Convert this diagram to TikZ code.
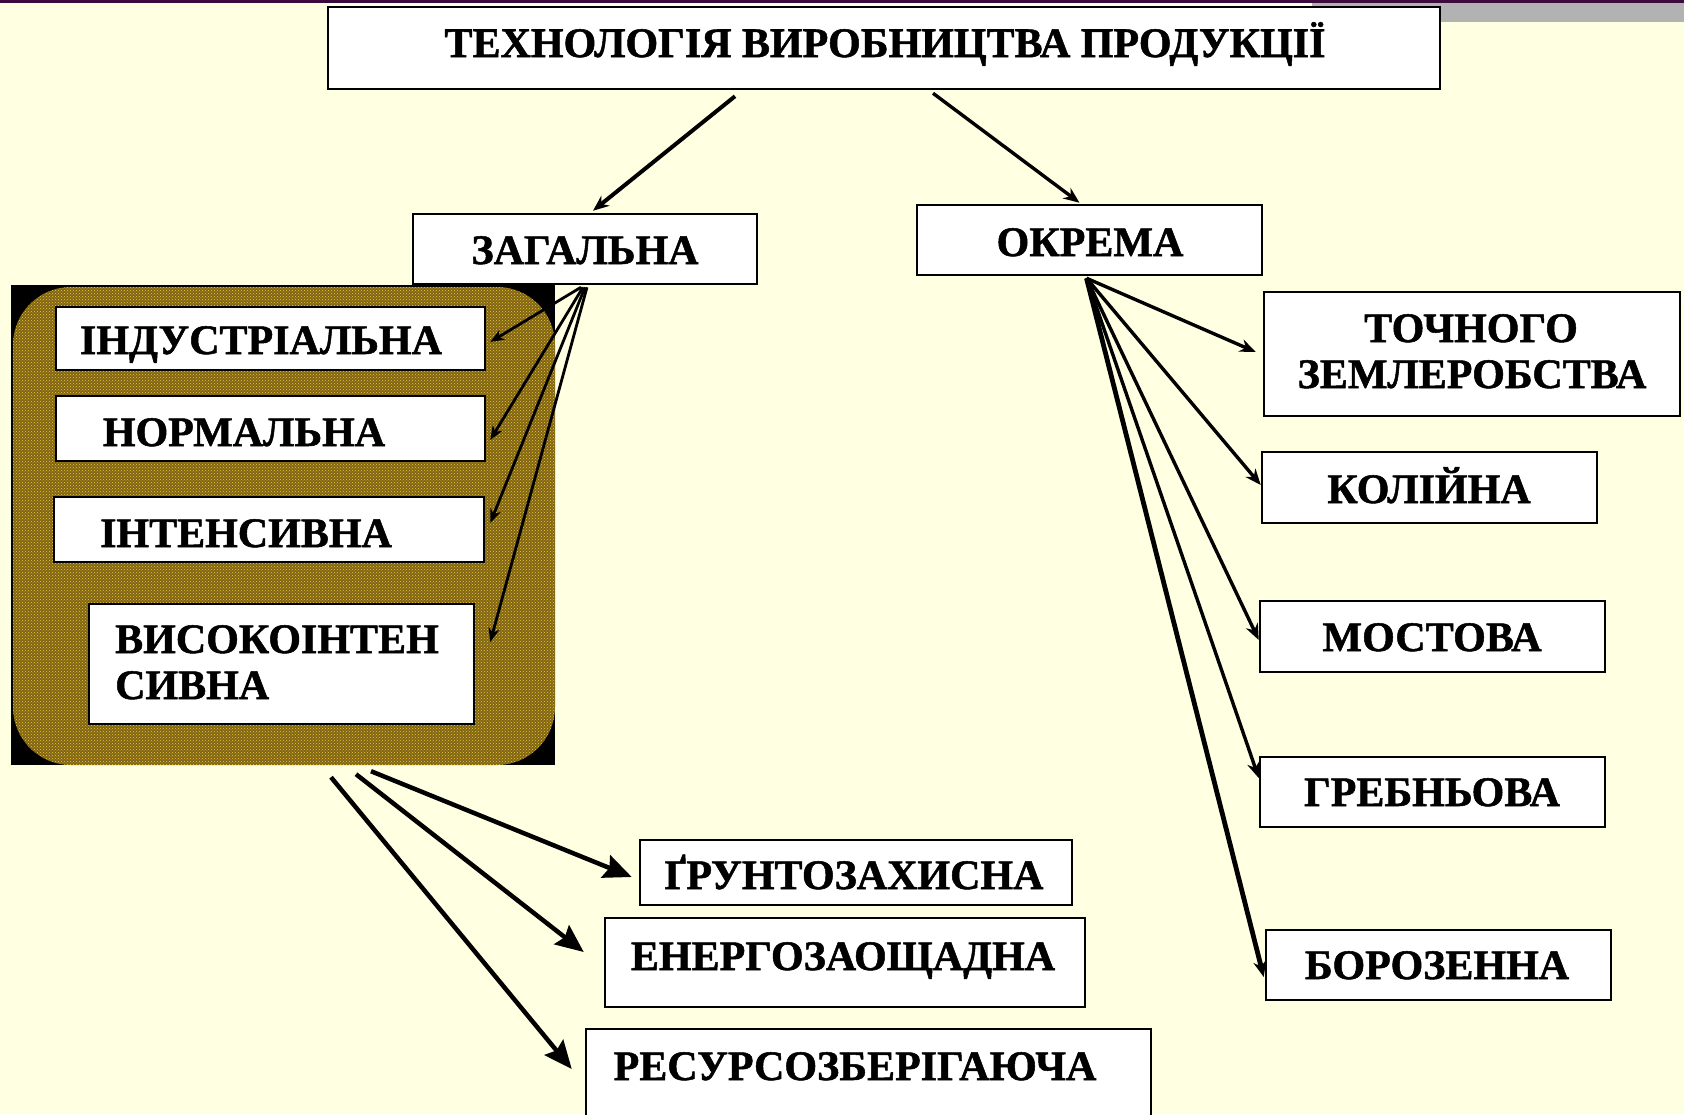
\documentclass[tikz,border=0pt]{standalone}
\usepackage{fontspec}
\setmainfont{Liberation Serif}[BoldFeatures={FakeBold=1.2}]
\usetikzlibrary{arrows.meta,patterns}
\definecolor{bg}{RGB}{255,255,225}
\definecolor{topline}{RGB}{60,10,60}
\definecolor{graybar}{RGB}{178,178,178}
\definecolor{olivebase}{RGB}{128,100,24}
\definecolor{dotyellow}{RGB}{238,204,40}
\begin{document}
\begin{tikzpicture}[x=1pt,y=-1pt,
  box/.style={draw=black,line width=2.5pt,fill=white,inner sep=0pt},
  lbl/.style={anchor=base,inner sep=0pt,font=\fontsize{42}{46}\selectfont\bfseries},
  lblw/.style={lbl,anchor=base west},
  arrS/.style={line width=3.4pt,-{Stealth[length=16pt,width=13pt]}},
  arrI/.style={line width=2.8pt,-{Stealth[length=14pt,width=11pt]}},
  arrB/.style={line width=4.5pt,-{Stealth[length=28pt,width=24pt,inset=4pt]}}]
\useasboundingbox (0,0) rectangle (1684,1114);
\fill[bg] (0,0) rectangle (1684,1114);
\fill[topline] (0,0) rectangle (1684,3);
\fill[graybar] (1312,3) rectangle (1684,22);

% group area
\node[fill=black,inner sep=0pt,minimum width=544pt,minimum height=480pt] (grp) at (283,525) {};
\fill[olivebase,rounded corners=58pt] (13,287) rectangle (555,765);
\fill[pattern=crosshatch dots,pattern color=dotyellow,rounded corners=58pt] (13,287) rectangle (555,765);

% inner boxes
\node[box,minimum width=429pt,minimum height=63pt] (ind) at (270.5,338.5) {};
\node[lbl] at (261,354) {ІНДУСТРІАЛЬНА};
\node[box,minimum width=429pt,minimum height=65pt] (norm) at (270.5,428.5) {};
\node[lbl] at (244,446) {НОРМАЛЬНА};
\node[box,minimum width=430pt,minimum height=65pt] (inten) at (269,529.5) {};
\node[lbl] at (246,547) {ІНТЕНСИВНА};
\node[box,minimum width=385pt,minimum height=120pt] (vys) at (281.5,664) {};
\node[lblw] at (115,653) {ВИСОКОІНТЕН};
\node[lblw] at (115,699) {СИВНА};

% main boxes
\node[box,minimum width=1112pt,minimum height=82pt] (top) at (884,48) {};
\node[lbl] at (885,57) {ТЕХНОЛОГІЯ ВИРОБНИЦТВА ПРОДУКЦІЇ};
\node[box,minimum width=344pt,minimum height=70pt] (zag) at (585,249) {};
\node[lbl] at (585,264) {ЗАГАЛЬНА};
\node[box,minimum width=345pt,minimum height=70pt] (okr) at (1089.5,240) {};
\node[lbl] at (1090,256) {ОКРЕМА};
\node[box,minimum width=416pt,minimum height=124pt] (toch) at (1472,354) {};
\node[lbl] at (1471,342) {ТОЧНОГО};
\node[lbl] at (1472,388) {ЗЕМЛЕРОБСТВА};
\node[box,minimum width=335pt,minimum height=71pt] (kol) at (1429.5,487.5) {};
\node[lbl] at (1429,503) {КОЛІЙНА};
\node[box,minimum width=345pt,minimum height=71pt] (most) at (1432.5,636.5) {};
\node[lbl] at (1432,651) {МОСТОВА};
\node[box,minimum width=345pt,minimum height=70pt] (greb) at (1432.5,792) {};
\node[lbl] at (1432,806) {ГРЕБНЬОВА};
\node[box,minimum width=345pt,minimum height=70pt] (boroz) at (1438.5,965) {};
\node[lbl] at (1437,979) {БОРОЗЕННА};
\node[box,minimum width=432pt,minimum height=65pt] (grunt) at (856,872.5) {};
\node[lbl] at (854,889) {ҐРУНТОЗАХИСНА};
\node[box,minimum width=480pt,minimum height=89pt] (energ) at (845,962.5) {};
\node[lbl] at (843,970) {ЕНЕРГОЗАОЩАДНА};
\node[box,minimum width=565pt,minimum height=95pt] (res) at (868.5,1076.5) {};
\node[lbl] at (855,1080) {РЕСУРСОЗБЕРІГАЮЧА};

% arrows from top
\draw[arrS,line width=4pt] ([xshift=-149pt,yshift=-6pt]top.south) -- ([xshift=8pt,yshift=2pt]zag.north);
\draw[arrS] ([xshift=49pt,yshift=-3pt]top.south) -- ([xshift=-10pt,yshift=1pt]okr.north);

% general fan
\draw[arrI] ([xshift=-4pt,yshift=-2pt]zag.south) -- ([xshift=4pt,yshift=-3.5pt]ind.east);
\draw[arrI] ([xshift=-2pt,yshift=-2pt]zag.south) -- ([xshift=4pt,yshift=-11.5pt]norm.east);
\draw[arrI] ([xshift=0pt,yshift=-2pt]zag.south) -- ([xshift=5pt,yshift=6.5pt]inten.east);
\draw[arrI] ([xshift=2pt,yshift=-2pt]zag.south) -- ([xshift=15pt,yshift=22pt]vys.east);

% separate fan
\draw[arrS] ([xshift=-3pt,yshift=-2pt]okr.south) -- ([xshift=-7pt,yshift=2pt]toch.west);
\draw[arrS] ([xshift=-3pt,yshift=-2pt]okr.south) -- ([yshift=2.5pt]kol.west);
\draw[arrS] ([xshift=-3pt,yshift=-2pt]okr.south) -- ([yshift=-3.5pt]most.west);
\draw[arrS] ([xshift=-3pt,yshift=-2pt]okr.south) -- ([yshift=14pt]greb.west);
\draw[arrS,line width=4.8pt] ([xshift=-3pt,yshift=-2pt]okr.south) -- ([xshift=-1pt,yshift=-12pt]boroz.west);

% bottom arrows
\draw[arrB] ([xshift=88pt,yshift=-6pt]grp.south) -- ([xshift=-7pt,yshift=-4.5pt]grunt.west);
\draw[arrB] ([xshift=73pt,yshift=-9pt]grp.south) -- ([xshift=-20pt,yshift=10.5pt]energ.west);
\draw[arrB] ([xshift=48pt,yshift=-12pt]grp.south) -- ([xshift=-13pt,yshift=7.5pt]res.west);
\end{tikzpicture}
\end{document}
